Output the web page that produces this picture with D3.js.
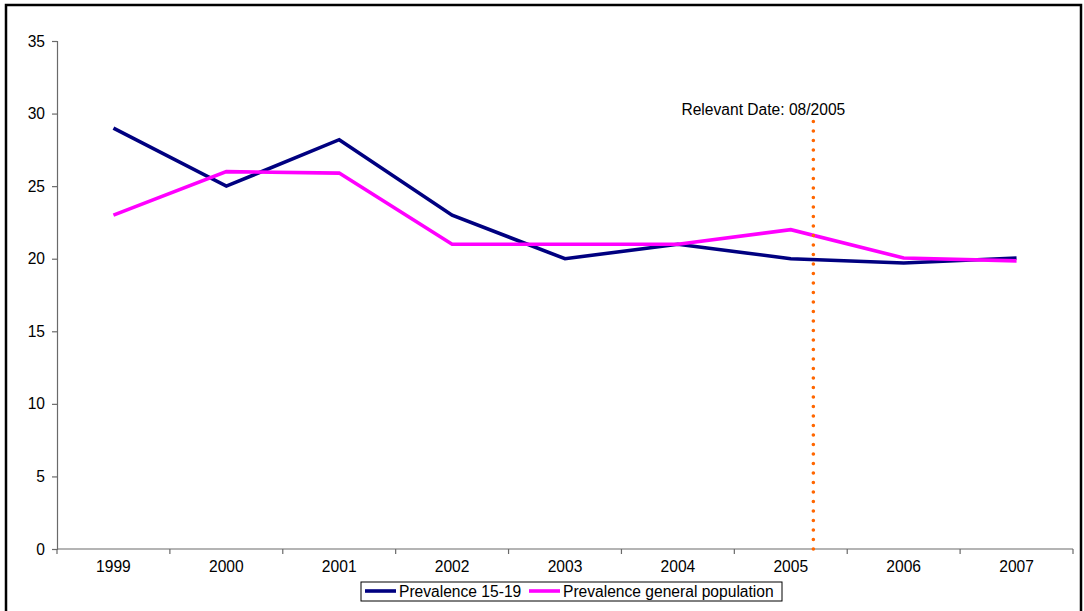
<!DOCTYPE html>
<html>
<head>
<meta charset="utf-8">
<script src="https://cdn.jsdelivr.net/npm/d3@7"></script>
<style>
  html, body { margin: 0; padding: 0; background: #fff; }
  svg { display: block; }
  text { font-family: "Liberation Sans", Arial, sans-serif; fill: #000; }
</style>
</head>
<body>
<svg id="chart" width="1084" height="611"></svg>
<script>
// Survey years and prevalence values (%)
const years = ["1999", "2000", "2001", "2002", "2003", "2004", "2005", "2006", "2007"];
const prevalence1519 = [29, 25, 28.2, 23, 20, 21, 20, 19.7, 20.05];
const prevalenceGeneral = [23, 26, 25.9, 21, 21, 21, 22, 20.05, 19.85];
const yTicks = [0, 5, 10, 15, 20, 25, 30, 35];
const seriesNames = ["Prevalence 15-19", "Prevalence general population"];
const seriesColors = ["#000080", "#ff00ff"];
// Reference marker: August 2005, expressed in category units after 2005
const markerYear = "2005";
const markerOffset = 0.2;
const markerLabel = "Relevant Date: 08/2005";

const FS = "15.6px";
const svg = d3.select("#chart");

// Outer frame
svg.append("rect")
  .attr("x", 6).attr("y", 5)
  .attr("width", 1075).attr("height", 620)
  .attr("fill", "none").attr("stroke", "#000").attr("stroke-width", 2.5);

const plot = { left: 57, right: 1073, top: 41, bottom: 549 };

const x = d3.scaleBand().domain(years).range([plot.left, plot.right]).padding(0);
const y = d3.scaleLinear().domain([0, 35]).range([plot.bottom, plot.top]);

// Y axis
const yAxis = d3.axisLeft(y).tickValues(yTicks).tickSize(5).tickPadding(7).tickFormat(d3.format("d"));
const gy = svg.append("g").attr("transform", `translate(${plot.left},0)`).call(yAxis);
gy.select(".domain").attr("stroke", "#6a6a6a").attr("stroke-width", 1.2);
gy.selectAll(".tick line").attr("stroke", "#6a6a6a").attr("stroke-width", 1.2);
gy.selectAll(".tick text").style("font-size", FS).attr("fill", "#000")
  .style("font-family", '"Liberation Sans", Arial, sans-serif');

// X axis: tick marks on category boundaries, labels centred in each category
const gx = svg.append("g").attr("transform", `translate(0,${plot.bottom})`);
gx.append("line")
  .attr("x1", plot.left).attr("x2", plot.right)
  .attr("stroke", "#6a6a6a").attr("stroke-width", 1.2);
const boundaries = years.map(d => x(d)).concat([x(years[years.length - 1]) + x.bandwidth()]);
gx.selectAll("line.tk").data(boundaries).join("line")
  .attr("class", "tk")
  .attr("x1", d => d).attr("x2", d => d)
  .attr("y1", 0).attr("y2", 5)
  .attr("stroke", "#6a6a6a").attr("stroke-width", 1.2);
gx.selectAll("text").data(years).join("text")
  .attr("x", d => x(d) + x.bandwidth() / 2)
  .attr("y", 23)
  .attr("text-anchor", "middle")
  .style("font-size", FS)
  .text(d => d);

// Series lines
const line = d3.line()
  .x((d, i) => x(years[i]) + x.bandwidth() / 2)
  .y(d => y(d));

[prevalence1519, prevalenceGeneral].forEach((vals, k) => {
  svg.append("path")
    .datum(vals)
    .attr("d", line)
    .attr("fill", "none")
    .attr("stroke", seriesColors[k])
    .attr("stroke-width", 3.6)
    .attr("stroke-linejoin", "miter");
});

// Reference date marker
const mx = x(markerYear) + x.bandwidth() / 2 + markerOffset * x.bandwidth();
svg.append("line")
  .attr("x1", mx).attr("x2", mx)
  .attr("y1", y(0)).attr("y2", 119)
  .attr("stroke", "#ff6600")
  .attr("stroke-width", 3.6)
  .attr("stroke-linecap", "round")
  .attr("stroke-dasharray", "0,9.5");
svg.append("text")
  .attr("x", mx - 50)
  .attr("y", 115)
  .attr("text-anchor", "middle")
  .style("font-size", FS)
  .text(markerLabel);

// Legend
const lg = svg.append("g");
lg.append("rect")
  .attr("x", 361).attr("y", 582)
  .attr("width", 421).attr("height", 19)
  .attr("fill", "#fff").attr("stroke", "#000").attr("stroke-width", 1);
const legendItems = [
  { x0: 365, tx: 399 },
  { x0: 529, tx: 563 }
];
seriesNames.forEach((name, k) => {
  lg.append("line")
    .attr("x1", legendItems[k].x0).attr("x2", legendItems[k].x0 + 31)
    .attr("y1", 591).attr("y2", 591)
    .attr("stroke", seriesColors[k]).attr("stroke-width", 3.6);
  lg.append("text")
    .attr("x", legendItems[k].tx).attr("y", 596.5)
    .style("font-size", FS)
    .text(name);
});
</script>
</body>
</html>
